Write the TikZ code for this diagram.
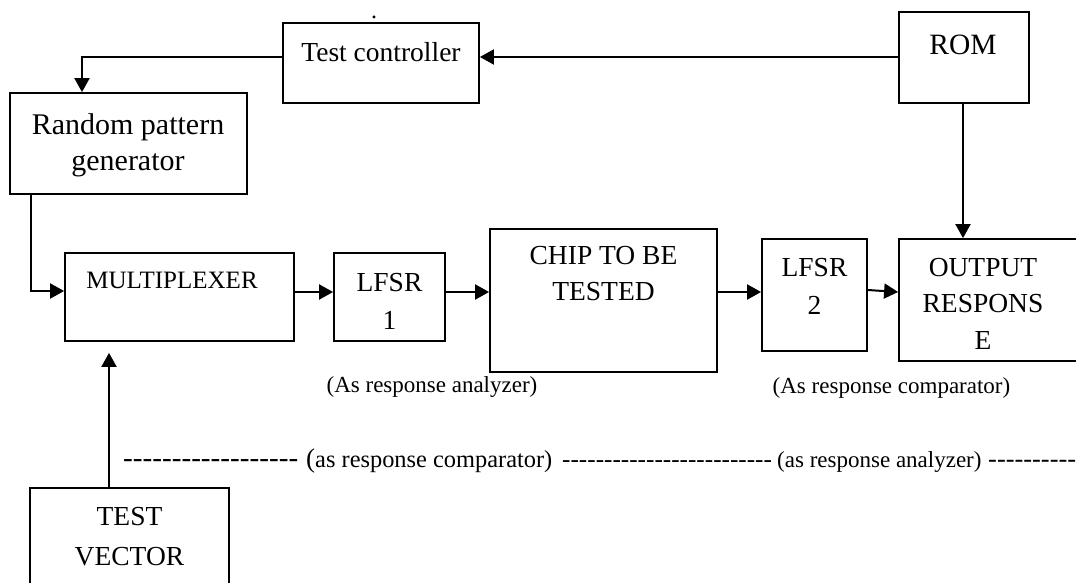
\documentclass[tikz,border=0pt]{standalone}
\usepackage{fontspec}
\setmainfont{Liberation Serif}
\newfontfamily\dashfont{Liberation Serif}[Ligatures=Common]
\usetikzlibrary{arrows.meta,calc}
\begin{document}
\begin{tikzpicture}[x=1pt,y=-1pt,
  box/.style={draw,line width=1.8pt,inner sep=0pt},
  txt/.style={inner sep=0pt,align=center},
  arr/.style={line width=2pt,-{Triangle[length=14pt,width=15pt]}},
  big/.style={font=\fontsize{27.5pt}{37pt}\selectfont},
  small/.style={font=\fontsize{23pt}{28pt}\selectfont}
]
\useasboundingbox (0,0) rectangle (1076,582);
% boxes
\node[box,minimum width=196,minimum height=80] (tc) at (381,63) {};
\node[box,minimum width=237,minimum height=101] (rpg) at (128.5,143.5) {};
\node[box,minimum width=130,minimum height=91] (rom) at (964,57.5) {};
\node[box,minimum width=229,minimum height=88] (mux) at (179.5,297) {};
\node[box,minimum width=111,minimum height=88] (l1) at (389.5,297) {};
\node[box,minimum width=227,minimum height=143] (chip) at (603.5,300.5) {};
\node[box,minimum width=105,minimum height=112] (l2) at (814.5,295) {};
\node[box,minimum width=181,minimum height=122] (out) at (989.5,300) {};
\node[box,minimum width=199,minimum height=102] (tv) at (129.5,539) {};
% texts
\node[txt,anchor=base,font=\fontsize{24pt}{28pt}\selectfont] (dot) at (374,18) {.};
\node[txt,big] (tct) at (381,52) {Test controller};
\node[txt,font=\fontsize{30pt}{36pt}\selectfont] (rpgt) at (128,145) {Random pattern\\generator};
\node[txt,font=\fontsize{29.5pt}{36pt}\selectfont] (romt) at (963,45) {ROM};
\node[txt,font=\fontsize{25pt}{30pt}\selectfont] (muxt) at (172,280) {MULTIPLEXER};
\node[txt,font=\fontsize{27.5pt}{38pt}\selectfont] (l1t) at (389.5,301) {LFSR\\1};
\node[txt,font=\fontsize{27.5pt}{36pt}\selectfont] (chipt) at (603.5,274) {CHIP TO BE\\TESTED};
\node[txt,font=\fontsize{27.5pt}{38pt}\selectfont] (l2t) at (814.5,286) {LFSR\\2};
\node[txt,font=\fontsize{27.5pt}{36.5pt}\selectfont] (outt) at (983,303.5) {OUTPUT\\RESPONS\\E};
\node[txt,font=\fontsize{27.5pt}{40pt}\selectfont] (tvt) at (129.5,537) {TEST\\VECTOR};
\node[txt,small] (la1) at (432,387) {(As response analyzer)};
\node[txt,small] (la2) at (891.5,388) {(As response comparator)};
% dashed text line
\node[txt,anchor=base west,font=\dashfont\fontsize{29.2pt}{34pt}\selectfont] (d1) at (123,467) {------------------};
\node[txt,anchor=base west,font=\fontsize{27pt}{34pt}\selectfont] (par) at (306,467) {(};
\node[txt,anchor=base west,font=\fontsize{24.4pt}{30pt}\selectfont] (c1) at (315,467) {as response comparator)};
\node[txt,anchor=base west,font=\dashfont\fontsize{25.2pt}{34pt}\selectfont] (d2) at (562,467) {-------------------------};
\node[txt,anchor=base west,small] (c2) at (777,467) {(as response analyzer)};
\node[txt,anchor=base west,font=\dashfont\fontsize{26.4pt}{34pt}\selectfont] (d3) at (988,467) {----------};
% connectors
\draw[arr] (rom.west |- 0,57) -- (tc.east |- 0,57);
\draw[arr] (tc.west |- 0,57) -| (rpg.north -| 82,0);
\draw[arr] (rpg.south -| 31,0) |- (mux.west |- 0,291);
\draw[arr] (mux.east |- 0,292) -- (l1.west |- 0,292);
\draw[arr] (l1.east |- 0,292) -- (chip.west |- 0,292);
\draw[arr] (chip.east |- 0,292) -- (l2.west |- 0,292);
\draw[arr] (l2.east |- 0,290) -- (out.west |- 0,292);
\draw[arr] (rom.south -| 963,0) -- (out.north -| 963,0);
\draw[arr,shorten >=11pt] (tv.north -| 109,0) -- (mux.south -| 109,0);
\end{tikzpicture}
\end{document}
